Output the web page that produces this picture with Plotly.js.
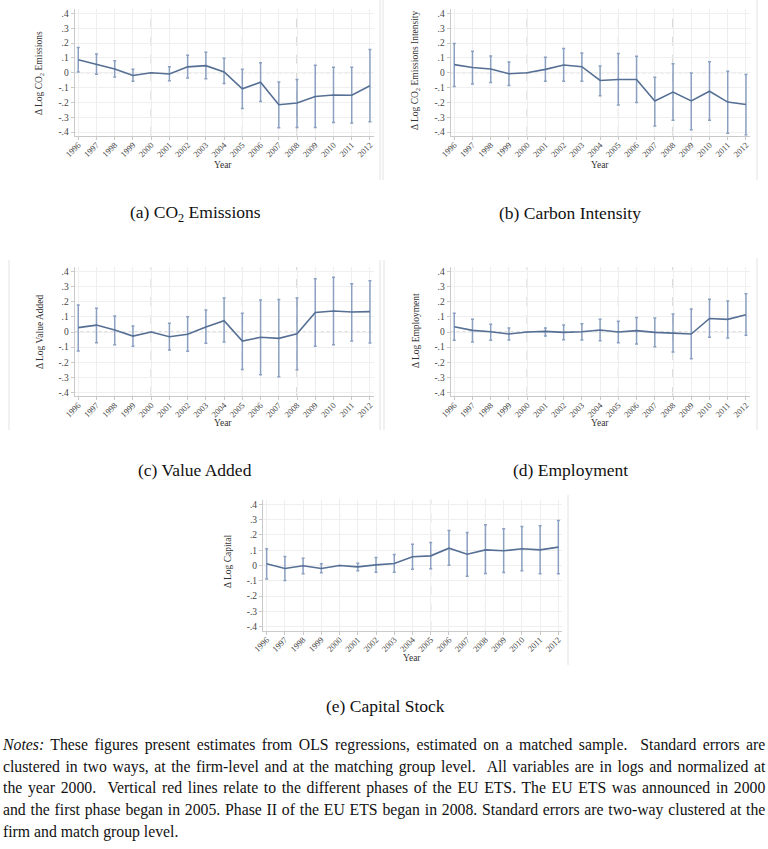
<!DOCTYPE html>
<html>
<head>
<meta charset="utf-8">
<script src="https://cdn.plot.ly/plotly-3.0.1.min.js"></script>
<style>
  html, body { margin: 0; padding: 0; background: #fff; }
  #wrap { position: relative; width: 768px; height: 849px; overflow: hidden; }
  #chart { position: absolute; left: 0; top: 0; width: 768px; height: 849px; }
  #notes { position: absolute; left: 3px; top: 734px; width: 762px;
           font-family: "Liberation Serif", "Times New Roman", serif; font-size: 17.5px;
           line-height: 21.7px; color: #111; }
  #notes div { width: 847px; text-align: justify; text-align-last: justify; white-space: nowrap;
               transform: scaleX(0.9); transform-origin: 0 0; }
  #notes div.last { text-align-last: left; }
</style>
</head>
<body>
<div id="wrap">
  <div id="chart"></div>
  <div id="notes">
    <div><i>Notes:</i> These figures present estimates from OLS regressions, estimated on a matched sample. &nbsp;Standard errors are</div>
    <div>clustered in two ways, at the firm-level and at the matching group level. &nbsp;All variables are in logs and normalized at</div>
    <div>the year 2000. &nbsp;Vertical red lines relate to the different phases of the EU ETS. The EU ETS was announced in 2000</div>
    <div>and the first phase began in 2005. Phase II of the EU ETS began in 2008. Standard errors are two-way clustered at the</div>
    <div class="last">firm and match group level.</div>
  </div>
</div>
<script>
// ---------- data ----------
const years = [1996,1997,1998,1999,2000,2001,2002,2003,2004,2005,2006,2007,2008,2009,2010,2011,2012];
const yTickVals = [-0.4,-0.3,-0.2,-0.1,0,0.1,0.2,0.3,0.4];
const yTickText = ['-.4','-.3','-.2','-.1','0','.1','.2','.3','.4'];
const phaseYears = [2000, 2005, 2008];

// (a) CO2 emissions
const co2Est = [0.088,0.058,0.026,-0.018,0,-0.008,0.040,0.048,0.006,-0.108,-0.064,-0.216,-0.204,-0.160,-0.150,-0.152,-0.088];
const co2Lo  = [0.006,-0.010,-0.028,-0.058,null,-0.054,-0.036,-0.040,-0.072,-0.242,-0.194,-0.372,-0.370,-0.370,-0.336,-0.340,-0.330];
const co2Hi  = [0.170,0.126,0.082,0.024,null,0.040,0.118,0.138,0.098,0.024,0.068,-0.062,-0.046,0.050,0.037,0.037,0.158];

// (b) Carbon intensity
const ciEst = [0.055,0.036,0.025,-0.007,0,0.023,0.052,0.041,-0.052,-0.045,-0.045,-0.190,-0.130,-0.190,-0.125,-0.198,-0.214];
const ciLo  = [-0.093,-0.075,-0.066,-0.086,null,-0.057,-0.057,-0.057,-0.155,-0.218,-0.200,-0.360,-0.320,-0.384,-0.320,-0.409,-0.420];
const ciHi  = [0.198,0.145,0.114,0.073,null,0.105,0.164,0.134,0.045,0.130,0.111,-0.030,0.061,-0.002,0.075,0.011,-0.011];

// (c) Value added
const vaEst = [0.029,0.046,0.013,-0.027,0,-0.031,-0.015,0.033,0.075,-0.060,-0.035,-0.042,-0.011,0.130,0.139,0.133,0.135];
const vaLo  = [-0.126,-0.071,-0.084,-0.095,null,-0.119,-0.128,-0.075,-0.066,-0.248,-0.283,-0.296,-0.250,-0.095,-0.084,-0.060,-0.073];
const vaHi  = [0.179,0.157,0.106,0.040,null,0.058,0.102,0.146,0.226,0.124,0.212,0.215,0.226,0.354,0.363,0.320,0.340];

// (d) Employment
const emEst = [0.035,0.011,0.002,-0.013,0,0.004,-0.002,0.002,0.013,0.000,0.009,-0.002,-0.007,-0.013,0.090,0.084,0.115];
const emLo  = [-0.055,-0.066,-0.055,-0.053,null,-0.027,-0.051,-0.053,-0.058,-0.071,-0.080,-0.097,-0.133,-0.177,-0.035,-0.040,-0.022];
const emHi  = [0.124,0.084,0.051,0.027,null,0.027,0.046,0.055,0.084,0.071,0.097,0.093,0.119,0.153,0.217,0.206,0.254];

// (e) Capital stock
const kEst = [0.011,-0.020,-0.002,-0.020,0,-0.009,0.004,0.013,0.057,0.063,0.113,0.074,0.102,0.096,0.109,0.102,0.120];
const kLo  = [-0.089,-0.098,-0.054,-0.048,null,-0.035,-0.044,-0.044,-0.024,-0.022,0.002,-0.070,-0.052,-0.046,-0.035,-0.054,-0.054];
const kHi  = [0.109,0.059,0.048,0.011,null,0.015,0.052,0.072,0.139,0.150,0.229,0.216,0.266,0.240,0.255,0.259,0.294];

const yTitles = ['Δ Log CO<sub>2</sub> Emissions','Δ Log CO<sub>2</sub> Emissions Intensity','Δ Log Value Added','Δ Log Employment','Δ Log Capital'];
const captions = ['(a) CO<sub>2</sub> Emissions','(b) Carbon Intensity','(c) Value Added','(d) Employment','(e) Capital Stock'];

// ---------- layout helpers ----------
const W = 768, H = 849;
const px = x => x / W;
const py = y => 1 - y / H;

const panels = [
  {est: co2Est, lo: co2Lo, hi: co2Hi, x0: 74.6, x1: 373.6, y0: 9.1,   y1: 135.7, ytx: 40,  yty: 73,  yrx: 223, yry: 165, cx: 195, cy: 213},
  {est: ciEst,  lo: ciLo,  hi: ciHi,  x0: 450.6, x1: 749.6, y0: 9.1,  y1: 135.7, ytx: 415, yty: 71,  yrx: 600, yry: 165, cx: 570, cy: 213},
  {est: vaEst,  lo: vaLo,  hi: vaHi,  x0: 74.6, x1: 373.6, y0: 267.2, y1: 396.1, ytx: 40,  yty: 332, yrx: 223, yry: 423, cx: 195, cy: 470},
  {est: emEst,  lo: emLo,  hi: emHi,  x0: 450.6, x1: 749.6, y0: 267.2, y1: 396.1, ytx: 416, yty: 331, yrx: 600, yry: 423, cx: 570, cy: 470},
  {est: kEst,   lo: kLo,   hi: kHi,   x0: 263.0, x1: 562.0, y0: 499.7, y1: 630.5, ytx: 228, yty: 562, yrx: 412, yry: 658, cx: 385, cy: 706}
];

const lineColor = '#566f94';
const barColor = '#8ba0c0';
const axisColor = '#c9c9c9';
const gridColor = '#efefef';
const serif = 'Liberation Serif, Times New Roman, serif';

const traces = [];
const layout = {
  width: W, height: H,
  margin: {l: 0, r: 0, t: 0, b: 0},
  paper_bgcolor: '#ffffff', plot_bgcolor: '#ffffff',
  showlegend: false,
  font: {family: serif, color: '#333'},
  shapes: [], annotations: []
};

panels.forEach((p, i) => {
  const n = i + 1;
  const xa = n === 1 ? 'x' : 'x' + n;
  const ya = n === 1 ? 'y' : 'y' + n;
  const plus = p.est.map((v, k) => p.hi[k] === null ? null : p.hi[k] - v);
  const minus = p.est.map((v, k) => p.lo[k] === null ? null : v - p.lo[k]);
  traces.push({
    type: 'scatter', mode: 'lines', x: years, y: p.est, xaxis: xa, yaxis: ya,
    line: {color: lineColor, width: 1.6},
    error_y: {type: 'data', symmetric: false, array: plus, arrayminus: minus,
              color: barColor, thickness: 1.5, width: 1.5},
    hoverinfo: 'x+y'
  });
  layout['xaxis' + (n === 1 ? '' : n)] = {
    domain: [px(p.x0), px(p.x1)], anchor: ya, range: [1995.8, 2012.2],
    tickvals: years, ticktext: years.map(String), tickangle: -45,
    tickfont: {family: serif, size: 8.5, color: '#444'},
    ticklabelstandoff: -3,
    showline: true, linecolor: axisColor, linewidth: 1,
    ticks: 'outside', ticklen: 3, tickcolor: axisColor,
    showgrid: true, gridcolor: gridColor, gridwidth: 1, zeroline: false, fixedrange: true
  };
  layout['yaxis' + (n === 1 ? '' : n)] = {
    domain: [py(p.y1), py(p.y0)], anchor: xa, range: [-0.425, 0.43],
    tickvals: yTickVals, ticktext: yTickText,
    tickfont: {family: serif, size: 9.5, color: '#444'},
    showline: true, linecolor: axisColor, linewidth: 1,
    ticks: 'outside', ticklen: 3, tickcolor: axisColor,
    showgrid: true, gridcolor: gridColor, gridwidth: 1, zeroline: false, fixedrange: true
  };
  phaseYears.forEach(yr => {
    layout.shapes.push({type: 'line', xref: xa, yref: ya + ' domain', x0: yr, x1: yr, y0: 0, y1: 1,
      line: {color: '#b5b5b5', width: 1, dash: 'dash'}, layer: 'below'});
  });
  layout.shapes.push({type: 'line', xref: xa + ' domain', yref: ya, x0: 0, x1: 1, y0: 0, y1: 0,
    line: {color: '#b8b8b8', width: 1, dash: 'dot'}, layer: 'below'});
  layout.annotations.push({xref: 'paper', yref: 'paper', x: px(p.ytx), y: py(p.yty), text: yTitles[i],
    textangle: -90, showarrow: false, xanchor: 'center', yanchor: 'middle',
    font: {family: serif, size: 9.5, color: '#333'}});
  layout.annotations.push({xref: 'paper', yref: 'paper', x: px(p.yrx), y: py(p.yry), text: 'Year',
    showarrow: false, xanchor: 'center', yanchor: 'middle',
    font: {family: serif, size: 9.5, color: '#333'}});
  layout.annotations.push({xref: 'paper', yref: 'paper', x: px(p.cx), y: py(p.cy), text: captions[i],
    showarrow: false, xanchor: 'center', yanchor: 'middle',
    font: {family: serif, size: 17.5, color: '#111'}});
});

const edges = [[380, 0, 180], [383, 0, 180], [757, 0, 180], [9, 260, 430], [380, 260, 430], [384, 260, 430], [757, 258, 430], [568, 495, 665]];
edges.forEach(e => {
  layout.shapes.push({type: 'line', xref: 'paper', yref: 'paper', x0: px(e[0]), x1: px(e[0]), y0: py(e[1]), y1: py(e[2]),
    line: {color: '#e2e2e2', width: 1}});
});

Plotly.newPlot('chart', traces, layout, {displayModeBar: false, staticPlot: true});
</script>
</body>
</html>
